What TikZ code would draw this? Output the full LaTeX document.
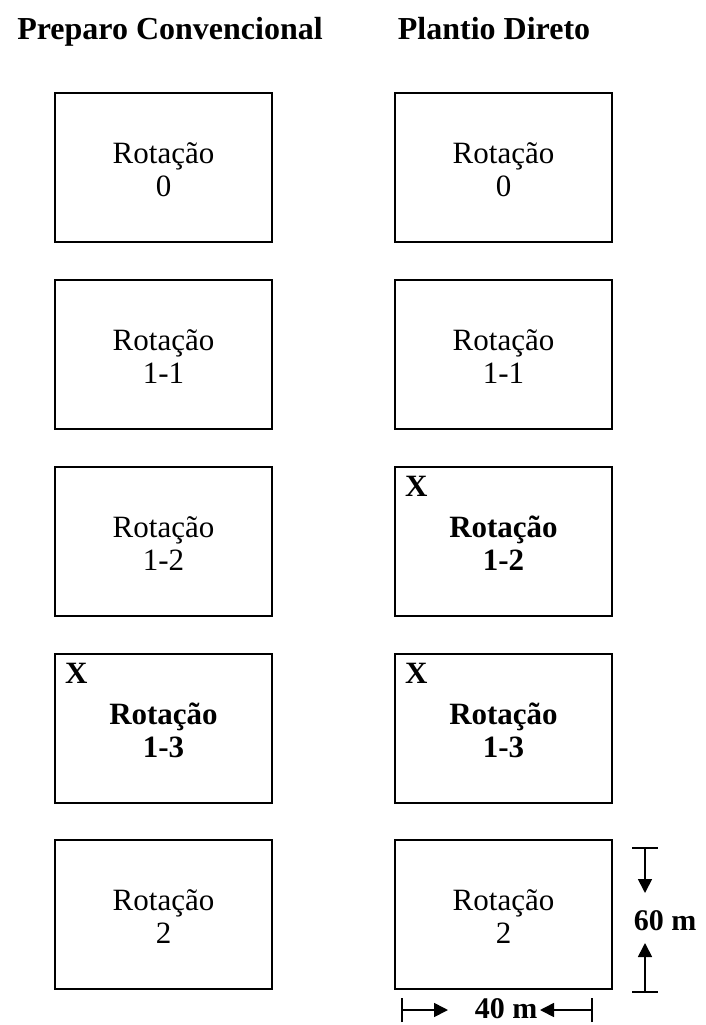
\documentclass[tikz,border=0pt]{standalone}
\usepackage{fontspec}
\setmainfont{Liberation Serif}
\usetikzlibrary{arrows.meta}
\begin{document}
\begin{tikzpicture}[x=1pt,y=-1pt,
  plot/.style={draw,line width=2.2pt,minimum width=217pt,minimum height=149pt,inner sep=0pt},
  rot/.style={align=center,font=\fontsize{31}{33}\selectfont,inner sep=0pt},
  rotb/.style={align=center,font=\fontsize{31}{33}\selectfont\bfseries,inner sep=0pt},
  head/.style={font=\fontsize{32}{36}\selectfont\bfseries,inner sep=0pt,anchor=base},
  xmark/.style={font=\fontsize{31}{33}\selectfont\bfseries,inner sep=0pt,anchor=north west},
  dimlbl/.style={font=\fontsize{30}{33}\selectfont\bfseries,inner sep=0pt},
  dimline/.style={line width=1.7pt},
  dimarrow/.style={line width=1.7pt,-{Triangle[length=14pt,width=14pt]}}]
\useasboundingbox (0,0) rectangle (705,1025);
% headers
\node[head] (hL) at (170,40) {Preparo Convencional};
\node[head] (hR) at (494,40) {Plantio Direto};
% left column
\node[plot] (L1) at (163.5,167.5) {};
\node[plot] (L2) at (163.5,354.5) {};
\node[plot] (L3) at (163.5,541.5) {};
\node[plot] (L4) at (163.5,728.5) {};
\node[plot] (L5) at (163.5,914.5) {};
% right column
\node[plot] (R1) at (503.5,167.5) {};
\node[plot] (R2) at (503.5,354.5) {};
\node[plot] (R3) at (503.5,541.5) {};
\node[plot] (R4) at (503.5,728.5) {};
\node[plot] (R5) at (503.5,914.5) {};
% labels
\node[rot] (tL1) at ([yshift=-2pt]L1.center) {Rotação\\0};
\node[rot] (tL2) at ([yshift=-2pt]L2.center) {Rotação\\1-1};
\node[rot] (tL3) at ([yshift=-2pt]L3.center) {Rotação\\1-2};
\node[rotb] (tL4) at ([yshift=-2pt]L4.center) {Rotação\\1-3};
\node[rot] (tL5) at ([yshift=-2pt]L5.center) {Rotação\\2};
\node[rot] (tR1) at ([yshift=-2pt]R1.center) {Rotação\\0};
\node[rot] (tR2) at ([yshift=-2pt]R2.center) {Rotação\\1-1};
\node[rotb] (tR3) at ([yshift=-2pt]R3.center) {Rotação\\1-2};
\node[rotb] (tR4) at ([yshift=-2pt]R4.center) {Rotação\\1-3};
\node[rot] (tR5) at ([yshift=-2pt]R5.center) {Rotação\\2};
\node[xmark] (xR3) at ([xshift=11pt,yshift=-10pt]R3.north west) {X};
\node[xmark] (xL4) at ([xshift=11pt,yshift=-10pt]L4.north west) {X};
\node[xmark] (xR4) at ([xshift=11pt,yshift=-10pt]R4.north west) {X};
% vertical dimension
\coordinate (vt) at (645,848);
\coordinate (vta) at (645,893);
\coordinate (vb) at (645,992);
\coordinate (vba) at (645,943);
\node[dimlbl] (d60) at (665,921) {60 m};
\draw[dimline] ([xshift=-13pt]vt) -- ([xshift=13pt]vt);
\draw[dimline] ([xshift=-13pt]vb) -- ([xshift=13pt]vb);
\draw[dimarrow] (vt) -- (vta);
\draw[dimarrow] (vb) -- (vba);
% horizontal dimension
\coordinate (hl) at (402,1010);
\coordinate (hla) at (448,1010);
\coordinate (hr) at (592,1010);
\coordinate (hra) at (540,1010);
\node[dimlbl] (d40) at (506,1009) {40 m};
\draw[dimline] ([yshift=-12pt]hl) -- ([yshift=12pt]hl);
\draw[dimline] ([yshift=-12pt]hr) -- ([yshift=12pt]hr);
\draw[dimarrow] (hl) -- (hla);
\draw[dimarrow] (hr) -- (hra);
\end{tikzpicture}
\end{document}
